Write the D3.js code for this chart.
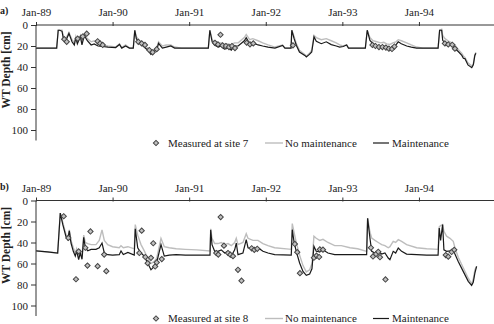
<!DOCTYPE html>
<html>
<head>
<meta charset="utf-8">
<script src="https://cdn.jsdelivr.net/npm/d3@7"></script>
<style>
  body { margin: 0; background: #fff; }
  svg { display: block; font-family: "Times New Roman", "Liberation Serif", Times, serif; }
  svg text { font-family: "Times New Roman", "Liberation Serif", Times, serif; }
  .axis text { font-size: 11px; fill: #222; }
  .axis path, .axis line { stroke: #333; }
</style>
</head>
<body>
<svg width="494" height="324"></svg>
<script>
// values: time in decimal years, depth in cm
var yearTicks = [1989, 1990, 1991, 1992, 1993, 1994];
var depthTicks = [0, 20, 40, 60, 80, 100];

// panel a, site 7
var timeA = [1989.00, 1989.27, 1989.29, 1989.31, 1989.34, 1989.36, 1989.39, 1989.43, 1989.47, 1989.50,
    1989.52, 1989.54, 1989.58, 1989.60, 1989.63, 1989.67, 1989.72, 1989.76, 1989.81, 1989.87,
    1989.94, 1990.04, 1990.09, 1990.12, 1990.17, 1990.22, 1990.27, 1990.29, 1990.31, 1990.35,
    1990.39, 1990.46, 1990.50, 1990.54, 1990.58, 1990.60, 1990.65, 1990.70, 1990.76, 1990.81,
    1990.90, 1991.25, 1991.27, 1991.30, 1991.33, 1991.38, 1991.42, 1991.46, 1991.51, 1991.55,
    1991.59, 1991.64, 1991.72, 1991.745, 1991.79, 1991.83, 1991.90, 1991.96, 1992.03, 1992.12,
    1992.22, 1992.25, 1992.33, 1992.34, 1992.37, 1992.40, 1992.44, 1992.51, 1992.53, 1992.57,
    1992.60, 1992.63, 1992.66, 1992.725, 1992.79, 1992.855, 1992.92, 1992.965, 1993.01, 1993.056,
    1993.08, 1993.30, 1993.325, 1993.36, 1993.40, 1993.45, 1993.50, 1993.54, 1993.58, 1993.62,
    1993.66, 1993.70, 1993.73, 1993.77, 1993.84, 1993.90, 1993.97, 1994.05, 1994.25, 1994.27,
    1994.297, 1994.31, 1994.34, 1994.38, 1994.43, 1994.47, 1994.49, 1994.51, 1994.56, 1994.58,
    1994.60, 1994.64, 1994.69, 1994.71, 1994.73, 1994.744];
var maintA = [22, 22, 5, 5, 6, 14, 15, 8, 16, 19,
    12, 18, 11, 19, 10, 15, 19, 18, 20, 20.5,
    21, 21.5, 18.5, 22, 20, 22, 22, 5, 13, 17,
    19.5, 24, 28, 25.5, 23, 17.5, 22, 21, 20, 22,
    22, 22, 5, 16, 19, 21, 20, 23, 22, 24,
    20, 20, 15, 12, 17.8, 17, 19, 20, 21, 22,
    19.5, 22, 22, 5, 13, 19.5, 25.7, 29, 30.5, 28,
    25.7, 11.4, 15.5, 17.8, 16, 18.7, 20, 21, 20.5, 19,
    22, 22, 5, 14.6, 17.8, 19.5, 21, 20, 22, 24,
    22, 19, 16, 17.8, 20, 21, 22, 22, 22, 5,
    5, 14.6, 17, 17.8, 20, 22, 23.8, 25, 29, 31.7,
    32, 38, 40.6, 38, 29, 27];
var noMaintA = [22, 22, 5, 5, 5, 12, 13, 7, 14, 17,
    11, 16, 10, 17, 9, 13, 16, 15, 18, 19,
    20, 21, 18, 21.5, 19, 22, 22, 5, 11, 15,
    17, 22, 26, 24, 21, 16, 20, 19, 19, 21,
    22, 22, 5, 14, 16, 17, 17, 18, 18, 19,
    17, 17, 12, 9, 14, 13, 15, 17, 19, 21,
    19, 22, 22, 5, 11, 18, 24, 28, 29.5, 27,
    24, 10, 12, 14, 13, 15, 17, 19, 20, 19,
    22, 22, 5, 12, 15, 16, 17, 16.5, 18, 18.5,
    17, 16, 14, 15, 17, 19, 21, 22, 22, 5,
    4, 10, 13, 15, 17, 19, 21, 23, 27, 29.5,
    31, 36, 39, 37, 28, 26];
var measTimeA = [1989.369, 1989.401, 1989.544, 1989.61, 1989.662, 1989.805, 1989.836, 1989.871,
    1990.336, 1990.380, 1990.423, 1990.479, 1990.523, 1990.576,
    1991.337, 1991.376, 1991.409, 1991.435, 1991.480, 1991.520, 1991.559, 1991.598,
    1991.751, 1991.794, 1991.837, 1992.355,
    1993.393, 1993.432, 1993.478, 1993.523, 1993.569, 1993.608, 1993.648, 1993.680,
    1994.339, 1994.383, 1994.435, 1994.470];
var measDepthA = [13.5, 16, 13, 11, 8.3, 15.5, 17.5, 19,
    16, 17.5, 19, 23.8, 26, 23,
    17, 18.5, 9.3, 19.5, 20, 21, 20, 22,
    16.8, 18.4, 17.5, 19.4,
    19, 20, 21, 21, 21.5, 22.5, 22.8, 20.5,
    17.5, 18.5, 18.8, 22.5];

// panel b, site 8
var timeB = [1989.00, 1989.15, 1989.283, 1989.317, 1989.35, 1989.39, 1989.414, 1989.435, 1989.457, 1989.487,
    1989.513, 1989.531, 1989.557, 1989.578, 1989.601, 1989.623, 1989.644, 1989.675, 1989.72, 1989.783,
    1989.826, 1989.862, 1989.892, 1989.936, 1990.00, 1990.087, 1990.11, 1990.14, 1990.20, 1990.283,
    1990.296, 1990.328, 1990.371, 1990.414, 1990.458, 1990.501, 1990.544, 1990.576, 1990.632, 1990.675,
    1990.74, 1990.83, 1990.95, 1991.10, 1991.272, 1991.281, 1991.298, 1991.333, 1991.376, 1991.419,
    1991.463, 1991.507, 1991.55, 1991.594, 1991.615, 1991.637, 1991.702, 1991.745, 1991.768, 1991.833,
    1991.898, 1991.963, 1992.029, 1992.116, 1992.333, 1992.346, 1992.368, 1992.398, 1992.442, 1992.486,
    1992.529, 1992.573, 1992.603, 1992.629, 1992.659, 1992.704, 1992.747, 1992.812, 1992.90, 1992.986,
    1993.10, 1993.20, 1993.317, 1993.330, 1993.360, 1993.383, 1993.426, 1993.469, 1993.513, 1993.556,
    1993.599, 1993.621, 1993.664, 1993.696, 1993.730, 1993.774, 1993.839, 1993.97, 1994.10, 1994.250,
    1994.265, 1994.283, 1994.309, 1994.326, 1994.361, 1994.405, 1994.448, 1994.470, 1994.513, 1994.578,
    1994.644, 1994.688, 1994.709, 1994.731, 1994.753];
var maintB = [48, 49, 50, 12, 23, 34, 37, 29, 40.5, 48.4,
    53, 48, 56.4, 50, 56, 35, 45, 47.8, 46.5, 46.5,
    45, 40.5, 50, 51.6, 52, 51.6, 48, 51.5, 49.5, 52,
    27, 45, 50, 53, 59.5, 66, 62.7, 59, 42, 53,
    52, 51.6, 52, 52, 52, 28, 42, 48.4, 48.4, 47,
    50, 48.4, 53, 47, 40.5, 51.6, 50, 37.3, 45, 46.5,
    45, 48.4, 50, 51.6, 52, 27.8, 38.9, 48.4, 59.5, 67.5,
    71.3, 70, 65, 43.6, 48.4, 49, 47, 50, 51.6, 51.6,
    51.6, 51.6, 51.6, 17, 35.7, 48.4, 50, 48.4, 51, 50,
    54.8, 56.4, 48.4, 50, 45.2, 48.4, 51, 51.6, 52, 52,
    26.2, 38, 23, 47, 48.4, 48, 46.5, 51, 58, 67.5,
    77, 80.8, 78, 69, 62.7];
var noMaintB = [48, 49, 50, 12, 21, 32, 36, 28, 38, 45,
    50, 46, 54, 48, 53, 33, 40, 41, 42, 42,
    38, 28, 38, 42, 44, 45, 43, 45, 44, 46,
    23, 33, 42, 48, 55, 60, 58, 55, 36, 44,
    45, 46, 46.5, 47, 48, 27, 36, 41, 41, 40,
    42, 41, 43, 40, 36, 42, 40, 31.7, 36, 38,
    38, 41, 43, 45, 46.5, 22, 30, 40, 52, 62,
    68, 66, 60, 34, 36, 38, 37, 40, 43, 43,
    45, 46, 48.4, 16.7, 30, 35.7, 38, 40, 42, 43,
    45, 44, 38.9, 40, 37.3, 39, 42, 45, 46, 46.5,
    25, 24, 23, 29.4, 34, 36, 38.9, 45, 54, 64,
    74, 79.4, 75, 66, 62.7];
var measTimeB = [1989.362, 1989.422, 1989.522, 1989.557, 1989.644, 1989.672, 1989.711, 1989.805, 1989.890, 1989.918,
    1990.349, 1990.380, 1990.427, 1990.458, 1990.501, 1990.531, 1990.556, 1990.576, 1990.642,
    1991.354, 1991.380, 1991.411, 1991.454, 1991.507, 1991.537, 1991.572, 1991.637, 1991.683,
    1991.816, 1991.850, 1991.889,
    1992.380, 1992.411, 1992.446, 1992.629, 1992.662, 1992.697, 1992.706, 1992.747,
    1993.373, 1993.400, 1993.439, 1993.469, 1993.491, 1993.563,
    1994.350, 1994.383, 1994.427, 1994.461];
var measDepthB = [15, 35.6, 75, 48.5, 45, 62, 29.5, 62.5, 51.5, 67.3,
    50, 28.7, 53.8, 59.7, 54.6, 40.7, 62.8, 59, 55.8,
    50, 51.5, 15.8, 43, 50, 51.6, 53, 66, 76.4,
    45.5, 47, 46,
    41.4, 49.2, 69.2, 54.5, 52.5, 53.8, 46.6, 46.8,
    45, 53.3, 51, 48.8, 54, 75.2,
    52, 53.5, 49, 47];

var svg = d3.select("svg");

var x = d3.scaleLinear()
    .domain([1989, 1994.98])
    .range([36, 494]);

function drawPanel(top, letter, times, noMaint, maint, measTimes, measDepths, site) {
    var y = d3.scaleLinear()
        .domain([0, 110])
        .range([top, top + 115.5]);

    var g = svg.append("g");

    // y axis
    g.append("g")
        .attr("class", "axis")
        .attr("transform", "translate(36,0)")
        .call(d3.axisLeft(y).tickValues(depthTicks).tickSize(5).tickPadding(3))
        .call(function (a) {
            a.attr("font-family", null);
            a.select(".domain").attr("d", "M0," + top + "V" + (top + 115.5));
        });

    // x axis along the top
    g.append("g")
        .attr("class", "axis")
        .attr("transform", "translate(0," + top + ")")
        .call(d3.axisTop(x).tickValues(yearTicks).tickSize(3).tickPadding(6)
            .tickFormat(function (d) {
                return "Jan-" + String(d).slice(2);
            }))
        .call(function (a) {
            a.attr("font-family", null);
            a.select(".domain").attr("d", "M36,0H494");
            a.selectAll(".tick line").attr("y2", -3).attr("y1", 1);
        });

    var line = d3.line()
        .x(function (d) { return x(d[0]); })
        .y(function (d) { return y(d[1]); });

    g.append("path")
        .datum(d3.zip(times, noMaint))
        .attr("fill", "none")
        .attr("stroke", "#bdbdbd")
        .attr("stroke-width", 1.4)
        .attr("d", line);

    g.append("path")
        .datum(d3.zip(times, maint))
        .attr("fill", "none")
        .attr("stroke", "#1a1a1a")
        .attr("stroke-width", 1.2)
        .attr("d", line);

    var diamond = d3.symbol().type(d3.symbolSquare).size(14);

    g.append("g")
        .selectAll("path")
        .data(d3.zip(measTimes, measDepths))
        .enter().append("path")
        .attr("d", diamond)
        .attr("transform", function (d) {
            return "translate(" + x(d[0]) + "," + y(d[1]) + ") rotate(45)";
        })
        .attr("fill", "#c0c0c0")
        .attr("stroke", "#444")
        .attr("stroke-width", 1);

    // axis title
    g.append("text")
        .attr("transform", "translate(10," + (top + 45) + ") rotate(-90)")
        .attr("text-anchor", "middle")
        .attr("font-size", 11.5)
        .attr("font-weight", "bold")
        .attr("fill", "#222")
        .text("WT Depth [cm]");

    g.append("text")
        .attr("x", 0)
        .attr("y", top - 11)
        .attr("font-size", 10)
        .attr("font-weight", "bold")
        .attr("fill", "#222")
        .text(letter + ")");

    // legend
    var ly = top + 118;
    var leg = g.append("g").attr("font-size", 11).attr("fill", "#222");
    leg.append("path")
        .attr("d", diamond)
        .attr("transform", "translate(156," + ly + ") rotate(45)")
        .attr("fill", "#c0c0c0")
        .attr("stroke", "#444");
    leg.append("text").attr("x", 168).attr("y", ly).attr("dy", "0.35em").text("Measured at site " + site);
    leg.append("line").attr("x1", 265).attr("x2", 283).attr("y1", ly).attr("y2", ly)
        .attr("stroke", "#bdbdbd").attr("stroke-width", 1.4);
    leg.append("text").attr("x", 285).attr("y", ly).attr("dy", "0.35em").text("No maintenance");
    leg.append("line").attr("x1", 373).attr("x2", 389).attr("y1", ly).attr("y2", ly)
        .attr("stroke", "#1a1a1a").attr("stroke-width", 1.2);
    leg.append("text").attr("x", 392).attr("y", ly).attr("dy", "0.35em").text("Maintenance");
}

drawPanel(25, "a", timeA, noMaintA, maintA, measTimeA, measDepthA, 7);
drawPanel(200.5, "b", timeB, noMaintB, maintB, measTimeB, measDepthB, 8);
</script>
</body>
</html>
